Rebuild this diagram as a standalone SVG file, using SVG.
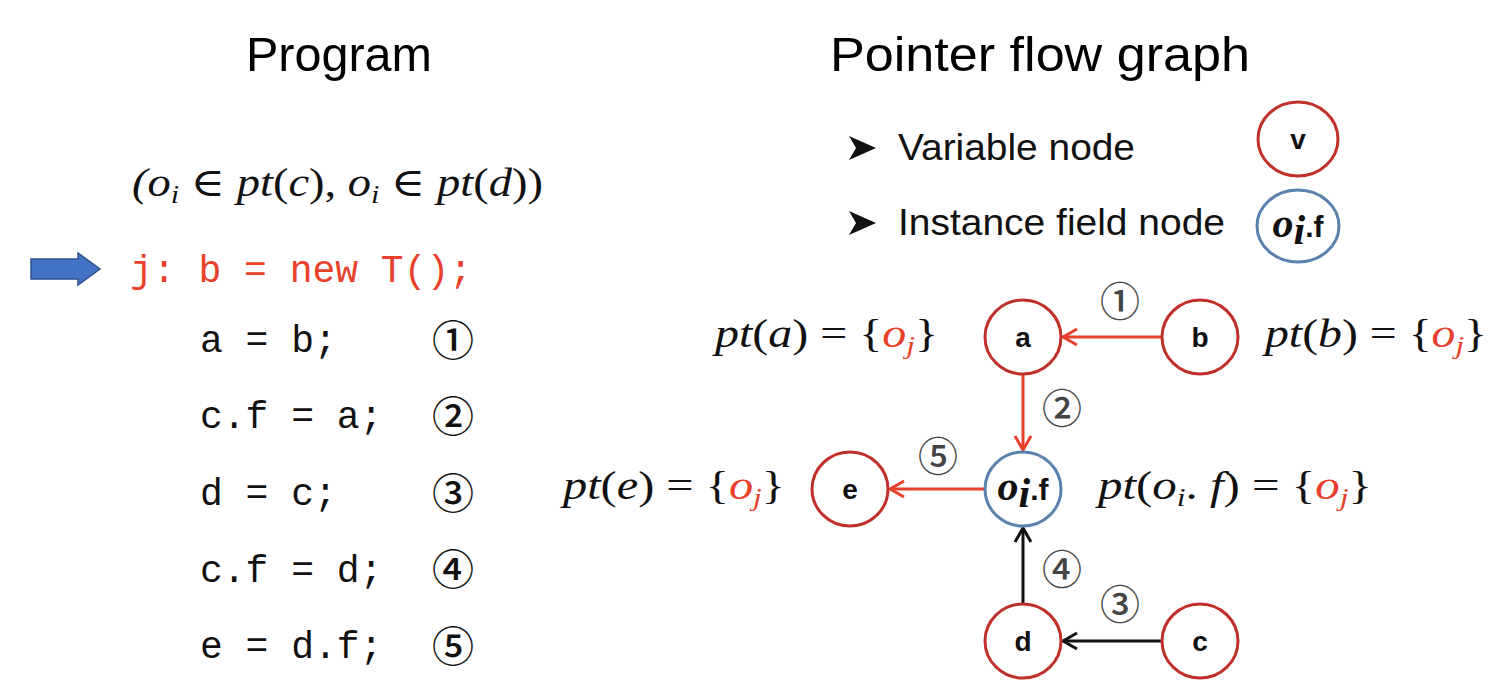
<svg xmlns="http://www.w3.org/2000/svg" width="1500" height="691" viewBox="0 0 1500 691">
<defs>
<style>
.title{font-family:"Liberation Sans",Arial,sans-serif;font-size:48px;fill:#000}
.code{font-family:"Liberation Mono","DejaVu Sans Mono",monospace;font-size:38px;fill:#111}
.num{font-family:"Noto Sans CJK SC","DejaVu Sans",sans-serif;font-size:42px;font-weight:500;fill:#111;text-anchor:middle}
.gnum{font-family:"Noto Sans CJK SC","DejaVu Sans",sans-serif;font-size:40px;font-weight:500;fill:#444;text-anchor:middle}
.math{font-family:"Liberation Serif","DejaVu Serif",serif;font-style:italic;font-size:40px;fill:#111}
.up{font-style:normal}
.red{fill:#e8402a}
.leg{font-family:"Liberation Sans",Arial,sans-serif;font-size:37px;fill:#111}
.var{fill:#fff;stroke:#c0302a;stroke-width:3}
.fld{fill:#fff;stroke:#5b82ad;stroke-width:3}
.lbl{font-family:"Liberation Sans",Arial,sans-serif;font-weight:bold;font-size:28px;fill:#111;text-anchor:middle}
.oi{font-family:"Liberation Serif",serif;font-weight:bold;font-style:italic;font-size:42px;fill:#111}
.ff{font-family:"Liberation Sans",Arial,sans-serif;font-weight:bold;font-size:30px;fill:#111}
.er{stroke:#e8402a;stroke-width:3;fill:none}
.eb{stroke:#111;stroke-width:3;fill:none}
</style>
<marker id="ar" viewBox="0 0 20 20" refX="18" refY="10" markerWidth="20" markerHeight="20" markerUnits="userSpaceOnUse" orient="auto">
<path d="M4 2 L18 10 L4 18" fill="none" stroke="#e8402a" stroke-width="3"/>
</marker>
<marker id="ab" viewBox="0 0 20 20" refX="18" refY="10" markerWidth="20" markerHeight="20" markerUnits="userSpaceOnUse" orient="auto">
<path d="M4 2 L18 10 L4 18" fill="none" stroke="#111" stroke-width="3"/>
</marker>
</defs>
<rect width="1500" height="691" fill="#fff"/>

<g id="program">
<text class="title" x="246" y="71" textLength="186" lengthAdjust="spacingAndGlyphs">Program</text>
<text class="math" x="132" y="196" textLength="411" lengthAdjust="spacingAndGlyphs">(<tspan>o</tspan><tspan font-size="26" dy="7">i</tspan><tspan dy="-7" class="up"> ∈ </tspan>pt<tspan class="up">(</tspan>c<tspan class="up">), </tspan>o<tspan font-size="26" dy="7">i</tspan><tspan dy="-7" class="up"> ∈ </tspan>pt<tspan class="up">(</tspan>d<tspan class="up">))</tspan></text>
<path d="M31 259 H78 V253 L100 269 L78 285 V279 H31 Z" fill="#4472c4" stroke="#2f528f" stroke-width="1.5"/>
<text class="code red" x="130" y="282">j: b = new T();</text>
<text class="code" x="200" y="352">a = b;</text>
<text class="code" x="200" y="428">c.f = a;</text>
<text class="code" x="200" y="505">d = c;</text>
<text class="code" x="200" y="582">c.f = d;</text>
<text class="code" x="200" y="658">e = d.f;</text>
<text class="num" x="453" y="356">①</text>
<text class="num" x="453" y="432">②</text>
<text class="num" x="453" y="509">③</text>
<text class="num" x="453" y="585">④</text>
<text class="num" x="453" y="662">⑤</text>
</g>

<g id="legend">
<text class="title" x="830" y="71" textLength="420" lengthAdjust="spacingAndGlyphs">Pointer flow graph</text>
<path d="M849 136 L876 148 L849 160 L856 148 Z" fill="#111"/>
<path d="M849 211 L876 223 L849 235 L856 223 Z" fill="#111"/>
<text class="leg" x="898" y="160" textLength="237" lengthAdjust="spacingAndGlyphs">Variable node</text>
<text class="leg" x="898" y="235" textLength="327" lengthAdjust="spacingAndGlyphs">Instance field node</text>
<ellipse class="var" cx="1298" cy="139" rx="40" ry="37"/>
<text class="lbl" x="1298" y="149">v</text>
<ellipse class="fld" cx="1298" cy="226" rx="41" ry="36"/>
<text x="1298" y="237" text-anchor="middle"><tspan class="oi">o</tspan><tspan class="oi" font-size="18" dy="7">i</tspan><tspan class="ff" dy="-7">.f</tspan></text>
</g>

<g id="edges">
<line class="er" x1="1162" y1="337" x2="1063" y2="337" marker-end="url(#ar)"/>
<line class="er" x1="1023" y1="374" x2="1023" y2="450" marker-end="url(#ar)"/>
<line class="er" x1="985" y1="489" x2="890" y2="489" marker-end="url(#ar)"/>
<line class="eb" x1="1023" y1="604" x2="1023" y2="528" marker-end="url(#ab)"/>
<line class="eb" x1="1162" y1="641" x2="1063" y2="641" marker-end="url(#ab)"/>
<text class="gnum" x="1120" y="316">①</text>
<text class="gnum" x="1062" y="423">②</text>
<text class="gnum" x="1120" y="619">③</text>
<text class="gnum" x="1062" y="584">④</text>
<text class="gnum" x="938" y="471">⑤</text>
</g>

<g id="node-a">
<ellipse class="var" cx="1023" cy="337" rx="38" ry="37"/>
<text class="lbl" x="1023" y="347">a</text>
</g>
<g id="node-b">
<ellipse class="var" cx="1200" cy="337" rx="38" ry="37"/>
<text class="lbl" x="1200" y="347">b</text>
</g>
<g id="node-oif">
<ellipse class="fld" cx="1023" cy="489" rx="38" ry="37"/>
<text x="1023" y="500" text-anchor="middle"><tspan class="oi">o</tspan><tspan class="oi" font-size="18" dy="7">i</tspan><tspan class="ff" dy="-7">.f</tspan></text>
</g>
<g id="node-e">
<ellipse class="var" cx="850" cy="489" rx="38" ry="37"/>
<text class="lbl" x="850" y="499">e</text>
</g>
<g id="node-d">
<ellipse class="var" cx="1023" cy="641" rx="38" ry="37"/>
<text class="lbl" x="1023" y="651">d</text>
</g>
<g id="node-c">
<ellipse class="var" cx="1200" cy="641" rx="38" ry="37"/>
<text class="lbl" x="1200" y="651">c</text>
</g>

<g id="pt-labels">
<text class="math" x="715" y="347" textLength="223" lengthAdjust="spacingAndGlyphs">pt<tspan class="up">(</tspan>a<tspan class="up">) = {</tspan><tspan class="red">o</tspan><tspan class="red" font-size="26" dy="7">j</tspan><tspan class="up" dy="-7">}</tspan></text>
<text class="math" x="1265" y="347" textLength="222" lengthAdjust="spacingAndGlyphs">pt<tspan class="up">(</tspan>b<tspan class="up">) = {</tspan><tspan class="red">o</tspan><tspan class="red" font-size="26" dy="7">j</tspan><tspan class="up" dy="-7">}</tspan></text>
<text class="math" x="563" y="499" textLength="222" lengthAdjust="spacingAndGlyphs">pt<tspan class="up">(</tspan>e<tspan class="up">) = {</tspan><tspan class="red">o</tspan><tspan class="red" font-size="26" dy="7">j</tspan><tspan class="up" dy="-7">}</tspan></text>
<text class="math" x="1098" y="499" textLength="274" lengthAdjust="spacingAndGlyphs">pt<tspan class="up">(</tspan>o<tspan font-size="26" dy="7">i</tspan><tspan class="up" dy="-7">. </tspan>f<tspan class="up">) = {</tspan><tspan class="red">o</tspan><tspan class="red" font-size="26" dy="7">j</tspan><tspan class="up" dy="-7">}</tspan></text>
</g>
</svg>
